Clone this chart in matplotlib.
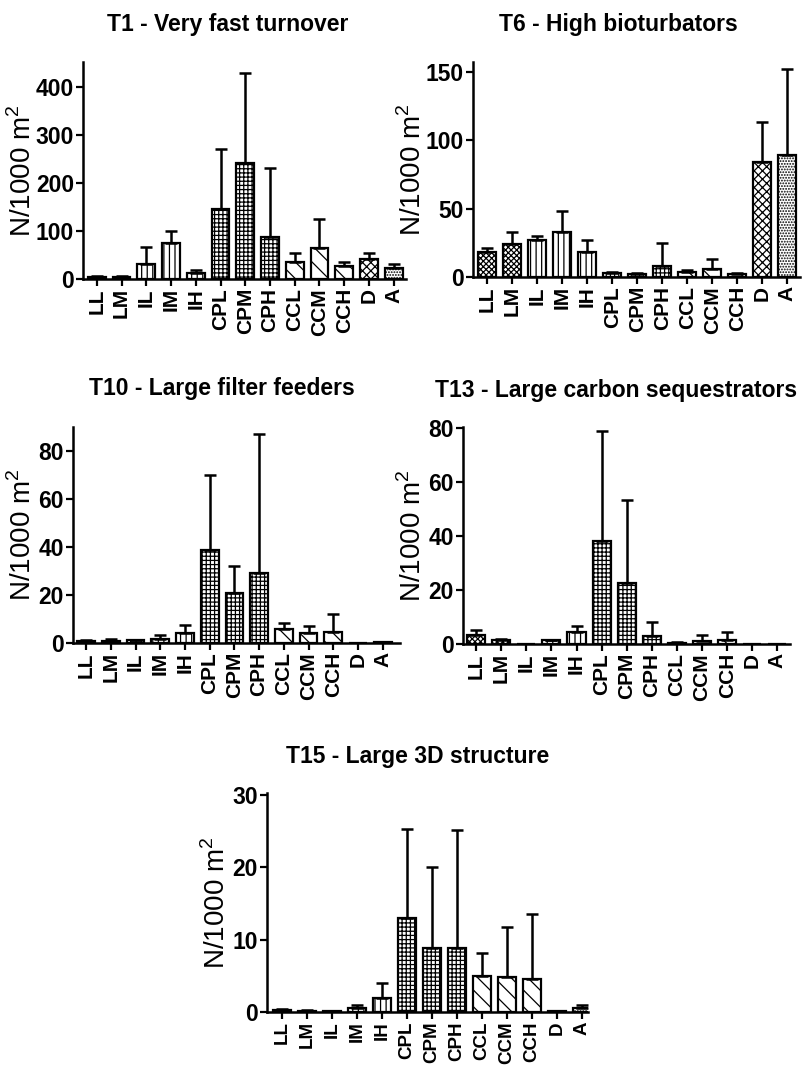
import matplotlib
matplotlib.use("Agg")
import matplotlib.pyplot as plt
import numpy as np

plt.rcParams['font.family'] = ['Liberation Sans', 'DejaVu Sans']
plt.rcParams['mathtext.fontset'] = 'custom'
plt.rcParams['mathtext.rm'] = 'Liberation Sans'
plt.rcParams['hatch.linewidth'] = 0.9

categories = ["LL", "LM", "IL", "IM", "IH", "CPL", "CPM", "CPH", "CCL", "CCM", "CCH", "D", "A"]
hatches = ["xxxxxx", "xxxxxx", "|||", "|||", "|||", "++++", "++++", "++++",
           "\\\\", "\\\\", "\\\\", "xxxx", "......"]

# means and upper error bars
t1_mean = [4, 5, 32, 75, 12, 145, 242, 88, 35, 65, 27, 42, 22]
t1_err = [2, 2, 35, 26, 6, 125, 188, 144, 20, 61, 8, 13, 10]
t6_mean = [18, 24, 27, 33, 18, 3, 2, 8, 4, 6, 2, 84, 89]
t6_err = [3, 9, 3, 15, 9, 1, 1, 17, 1, 7, 1, 29, 63]
t10_mean = [1.0, 1.0, 1.2, 1.5, 4.2, 38.8, 20.8, 29.2, 5.8, 4.0, 4.5, 0.1, 0.4]
t10_err = [0.3, 0.5, 0.2, 1.7, 3.3, 31.2, 11.2, 57.8, 2.7, 3.0, 7.5, 0.0, 0.2]
t13_mean = [3.5, 1.3, 0.1, 1.3, 4.3, 38.3, 22.5, 3.0, 0.5, 1.2, 1.3, 0.1, 0.1]
t13_err = [1.8, 0.7, 0.0, 0.3, 2.5, 40.7, 30.8, 5.3, 0.3, 2.1, 3.2, 0.0, 0.0]
t15_mean = [0.3, 0.2, 0.1, 0.5, 2.0, 13.0, 8.9, 8.8, 5.0, 4.9, 4.5, 0.1, 0.5]
t15_err = [0.1, 0.1, 0.05, 0.5, 2.0, 12.3, 11.1, 16.4, 3.2, 6.8, 9.0, 0.05, 0.4]

W, H = 804, 1066
fig = plt.figure(figsize=(W / 100, H / 100), dpi=100)


def add_panel(box, means, errs, title, title_xy, ylim, yticks, xlim, label_x, xfs=15):
    left, right, bottom, top = box
    ax = fig.add_axes([left / W, 1 - bottom / H, (right - left) / W, (bottom - top) / H])
    x = np.arange(len(categories))
    bars = ax.bar(x, means, width=0.72, color="white", edgecolor="black",
                  linewidth=1.6, zorder=2)
    for b, h in zip(bars, hatches):
        b.set_hatch(h)
    ax.errorbar(x, means, yerr=[np.zeros(len(errs)), errs], fmt="none",
                ecolor="black", elinewidth=1.8, capsize=4, capthick=1.8, zorder=3)
    ax.set_xlim(*xlim)
    ax.set_ylim(*ylim)
    ax.set_yticks(yticks)
    ax.set_xticks(x)
    ax.set_xticklabels(categories, rotation=90, fontsize=xfs, fontweight="bold")
    for t in ax.get_yticklabels():
        t.set_fontsize(16.5)
        t.set_fontweight("bold")
    ax.spines["top"].set_visible(False)
    ax.spines["right"].set_visible(False)
    ax.spines["left"].set_linewidth(1.8)
    ax.spines["bottom"].set_linewidth(1.8)
    ax.tick_params(axis="both", direction="out", width=1.6, length=5, pad=1.5)
    ax.set_ylabel("N/1000 m$^2$", fontsize=20)
    ax.yaxis.set_label_coords((label_x - left) / (right - left), 0.5)
    fig.text(title_xy[0] / W, 1 - title_xy[1] / H, title, ha="center", va="center",
             fontsize=16.5, fontweight="bold")
    return ax


add_panel((83, 406, 279, 62), t1_mean, t1_err, "T1 - Very fast turnover", (228, 25),
          (0, 452), [0, 100, 200, 300, 400], (-0.56, 12.5), 37)
add_panel((473, 800, 277, 62), t6_mean, t6_err, "T6 - High bioturbators", (618, 25),
          (0, 157), [0, 50, 100, 150], (-0.56, 12.5), 427)
add_panel((73, 400, 643, 427), t10_mean, t10_err, "T10 - Large filter feeders", (222, 388),
          (0, 90), [0, 20, 40, 60, 80], (-0.53, 12.7), 37)
add_panel((463, 790, 644, 427), t13_mean, t13_err, "T13 - Large carbon sequestrators", (616, 390),
          (0, 80.5), [0, 20, 40, 60, 80], (-0.52, 12.5), 427)
add_panel((267, 588, 1012, 793), t15_mean, t15_err, "T15 - Large 3D structure", (418, 757),
          (0, 30.3), [0, 10, 20, 30], (-0.6, 12.25), 231, xfs=13.5)

fig.savefig("out.png", dpi=100)
